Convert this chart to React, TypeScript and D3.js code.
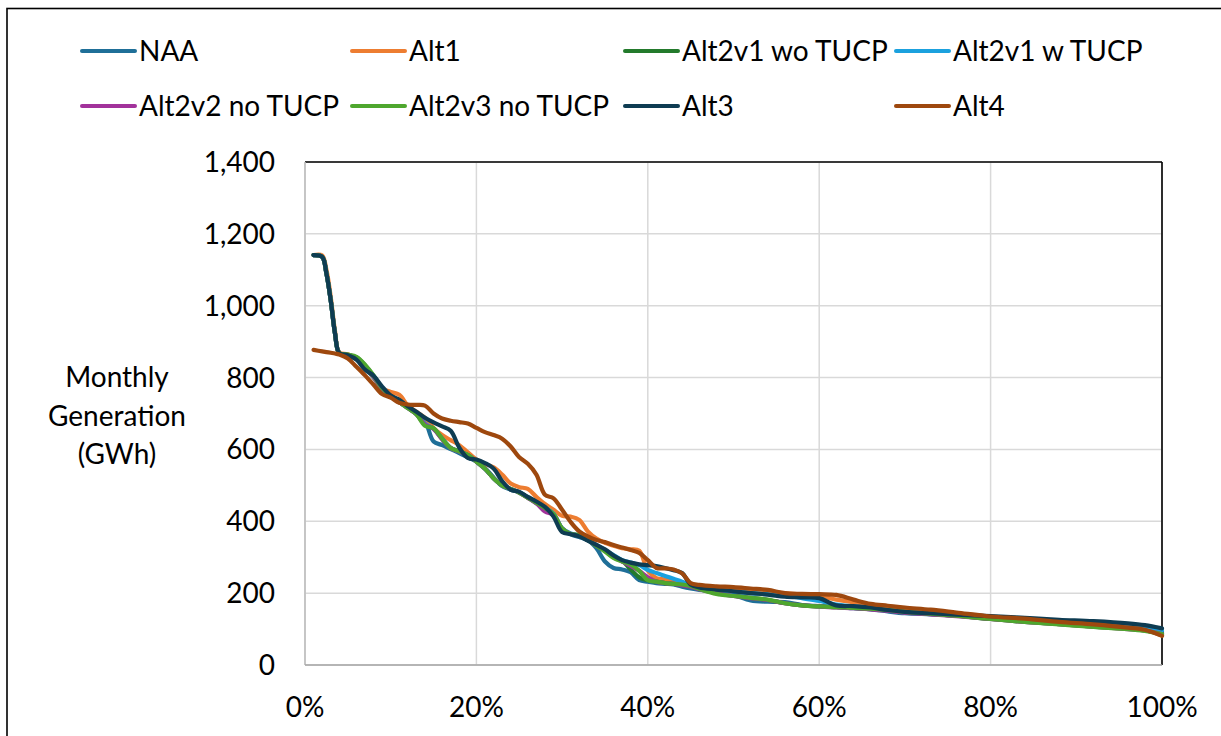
import React from 'react';
import * as d3 from 'd3';

// Exceedance probability (%) at which each series value is read
const PCT = [1, 2, 2.5, 3, 3.5, 4,
  5, 6, 7, 8, 9, 10, 11, 12, 13, 14,
  15, 16, 17, 18, 19, 20, 21, 22, 23, 24,
  25, 26, 27, 28, 29, 30, 31, 32, 33, 34,
  35, 36, 37, 38, 39, 40, 41, 42, 43, 44,
  45, 46,
  48, 50, 52, 54, 56, 58, 60, 62, 64, 66, 68, 70,
  73, 76, 80, 84, 88, 92, 96, 98, 100];

const NAA = [1141, 1136, 1090, 1015, 923, 868,
  862, 852, 828, 800, 768, 750, 735, 718, 702, 680,
  622, 612, 601, 590, 578, 566, 548, 522, 498, 488,
  480, 466, 450, 434, 416, 378, 364, 356, 348, 325,
  288, 270, 266, 258, 236, 232, 228, 226, 224, 218,
  213, 209,
  204, 195, 180, 176, 175, 167, 164, 162, 158, 155, 149, 144,
  141, 138, 132, 125, 120, 113, 106, 101, 92];

const ALT1 = [1141, 1140, 1100, 1025, 930, 870,
  865, 852, 830, 802, 770, 760, 752, 722, 705, 688,
  660, 640, 626, 612, 592, 572, 560, 550, 530, 505,
  495, 490, 468, 448, 432, 415, 413, 404, 372, 352,
  340, 332, 325, 322, 318, 262, 242, 238, 234, 230,
  224, 220,
  214, 210, 208, 205, 200, 196, 192, 182, 175, 168, 163, 158,
  151, 144, 134, 126, 120, 112, 104, 98, 82];

const ALT2V1_WO = [1141, 1136, 1090, 1015, 923, 868,
  863, 856, 834, 804, 770, 748, 732, 715, 698, 670,
  658, 630, 604, 594, 584, 566, 546, 520, 500, 490,
  480, 466, 452, 437, 420, 380, 365, 360, 348, 333,
  318, 300, 290, 266, 244, 236, 232, 228, 226, 223,
  219, 212,
  200, 193, 187, 181, 172, 166, 163, 161, 159, 156, 152, 147,
  142, 137, 128, 120, 114, 107, 101, 96, 86];

const ALT2V1_W = [1141, 1136, 1090, 1015, 923, 868,
  863, 855, 833, 804, 770, 748, 732, 716, 699, 672,
  657, 630, 604, 594, 584, 566, 546, 520, 500, 490,
  481, 467, 453, 438, 421, 381, 366, 360, 348, 334,
  320, 306, 292, 285, 278, 265, 256, 248, 240, 232,
  222, 214,
  207, 204, 200, 197, 194, 186, 178, 168, 163, 158, 153, 148,
  143, 138, 130, 123, 117, 110, 104, 100, 97];

const ALT2V2 = [1141, 1136, 1090, 1015, 923, 868,
  863, 855, 833, 803, 770, 748, 732, 715, 698, 670,
  657, 628, 604, 594, 584, 566, 546, 520, 500, 490,
  480, 465, 450, 427, 418, 380, 365, 360, 348, 333,
  318, 300, 288, 276, 262, 244, 232, 228, 226, 222,
  218, 211,
  200, 192, 186, 181, 172, 166, 163, 160, 158, 155, 151, 146,
  141, 136, 128, 120, 114, 107, 100, 96, 86];

const ALT2V3 = [1141, 1136, 1090, 1015, 923, 868,
  864, 858, 836, 806, 771, 748, 732, 715, 698, 666,
  659, 630, 604, 595, 585, 566, 546, 520, 500, 490,
  480, 466, 452, 437, 420, 380, 365, 361, 348, 332,
  316, 298, 288, 280, 262, 236, 232, 228, 226, 224,
  220, 212,
  198, 192, 187, 182, 172, 166, 163, 161, 159, 157, 153, 148,
  143, 137, 128, 120, 113, 106, 100, 95, 86];

const ALT3 = [1141, 1136, 1090, 1015, 923, 868,
  862, 850, 822, 805, 775, 750, 738, 720, 705, 688,
  675, 664, 652, 605, 576, 572, 562, 547, 512, 488,
  482, 468, 455, 440, 413, 370, 364, 358, 346, 334,
  322, 305, 292, 285, 280, 278, 275, 270, 264, 256,
  224, 216,
  210, 205, 200, 196, 190, 188, 186, 166, 164, 160, 153, 148,
  144, 140, 136, 131, 126, 122, 116, 111, 102];

const ALT4 = [877, 873, 871, 869, 867, 864,
  853, 830, 806, 780, 754, 744, 730, 725, 724, 722,
  700, 686, 680, 676, 672, 660, 648, 640, 630, 608,
  578, 560, 530, 474, 464, 432, 398, 372, 358, 348,
  342, 334, 327, 320, 312, 292, 270, 269, 266, 255,
  228, 223,
  219, 217, 213, 209, 200, 198, 197, 195, 182, 170, 165, 160,
  154, 146, 135, 129, 120, 113, 104, 98, 81];

const SERIES_NAMES = ['NAA', 'Alt1', 'Alt2v1 wo TUCP', 'Alt2v1 w TUCP', 'Alt2v2 no TUCP', 'Alt2v3 no TUCP', 'Alt3', 'Alt4'];
const SERIES_VALUES = [NAA, ALT1, ALT2V1_WO, ALT2V1_W, ALT2V2, ALT2V3, ALT3, ALT4];
const SERIES_COLORS = ['#1F6F98', '#ED7D31', '#237A2C', '#1BA1DE', '#A2329B', '#4EA72E', '#0E3C52', '#9E480E'];

const X_TICKS = [0, 0.2, 0.4, 0.6, 0.8, 1];
const Y_TICKS = [0, 200, 400, 600, 800, 1000, 1200, 1400];
const Y_TITLE = ['Monthly', 'Generation', '(GWh)'];

const FONT = 'Lato, "Open Sans", sans-serif';

export default function App() {
  const W = 1221, H = 736;
  const left = 305, right = 1162, top = 162, bottom = 665;
  const x = d3.scaleLinear().domain([0, 1]).range([left, right]);
  const y = d3.scaleLinear().domain([0, 1400]).range([bottom, top]);
  const line = d3.line<[number, number]>()
    .x(d => x(d[0] / 100))
    .y(d => y(d[1]))
    .curve(d3.curveCatmullRom.alpha(0.5));
  const fmtX = d3.format('.0%');
  const fmtY = d3.format(',');

  const legendCols = [82, 352, 625, 896];
  const legendRows = [51, 106];

  return (
    <svg width={W} height={H} style={{ position: 'absolute', left: 0, top: 0, background: '#fff' }}
      fontFamily={FONT}>
      <rect x={0} y={0} width={W} height={H} fill="#fff" />
      <rect x={7} y={8.5} width={W + 50} height={H + 50} fill="none" stroke="#000" strokeWidth={1.6} />

      {/* gridlines */}
      {Y_TICKS.map(t => (
        <line key={'gy' + t} x1={left} x2={right} y1={y(t)} y2={y(t)} stroke="#D9D9D9" strokeWidth={1.5} />
      ))}
      {X_TICKS.map(t => (
        <line key={'gx' + t} x1={x(t)} x2={x(t)} y1={top} y2={bottom} stroke="#D9D9D9" strokeWidth={1.5} />
      ))}

      {/* plot area border */}
      <line x1={left} x2={right} y1={top} y2={top} stroke="#000" strokeWidth={1.6} />
      <line x1={right} x2={right} y1={top} y2={bottom} stroke="#000" strokeWidth={1.6} />
      <line x1={left} x2={left} y1={top} y2={bottom} stroke="#BFBFBF" strokeWidth={1.6} />
      <line x1={left} x2={right} y1={bottom} y2={bottom} stroke="#A6A6A6" strokeWidth={1.6} />

      {/* series */}
      {SERIES_VALUES.map((vals, i) => (
        <path key={SERIES_NAMES[i]}
          d={line(PCT.map((p, j) => [p, vals[j]] as [number, number])) || ''}
          fill="none" stroke={SERIES_COLORS[i]} strokeWidth={4.2}
          strokeLinejoin="round" strokeLinecap="round" />
      ))}

      {/* axis labels */}
      {Y_TICKS.map(t => (
        <text key={'ty' + t} x={275} y={y(t) + 10} textAnchor="end" fontSize={28} fill="#000">{fmtY(t)}</text>
      ))}
      {X_TICKS.map(t => (
        <text key={'tx' + t} x={x(t)} y={717} textAnchor="middle" fontSize={28} fill="#000">{fmtX(t)}</text>
      ))}
      <text x={117} y={387} textAnchor="middle" fontSize={28} fill="#000">
        {Y_TITLE.map((s, i) => (
          <tspan key={s} x={117} y={387 + i * 38.5}>{s}</tspan>
        ))}
      </text>

      {/* legend */}
      {SERIES_NAMES.map((name, i) => {
        const cx = legendCols[i % 4];
        const cy = legendRows[Math.floor(i / 4)];
        return (
          <g key={'lg' + name}>
            <line x1={cx} x2={cx + 53} y1={cy} y2={cy} stroke={SERIES_COLORS[i]} strokeWidth={4} strokeLinecap="round" />
            <text x={cx + 57} y={cy + 10} fontSize={28} fill="#000">{name}</text>
          </g>
        );
      })}
    </svg>
  );
}
